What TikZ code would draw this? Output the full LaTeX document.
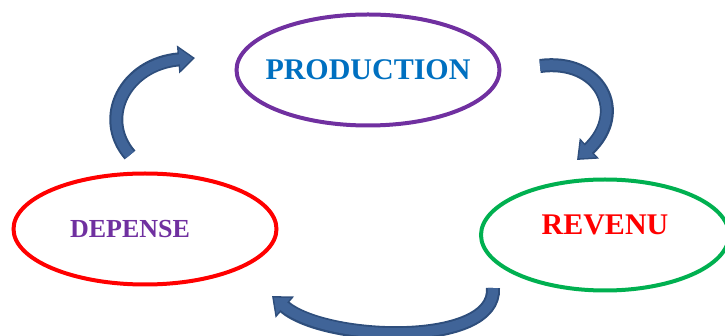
\documentclass[tikz,border=0pt]{standalone}
\usepackage{fontspec}
\setmainfont{Liberation Serif}
\usetikzlibrary{shapes.geometric,arrows.meta}
\definecolor{violeta}{HTML}{7030A0}
\definecolor{azul}{HTML}{0070C0}
\definecolor{verde}{HTML}{00B050}
\definecolor{seta}{RGB}{64,100,152}
\definecolor{setaborda}{RGB}{46,78,124}
\tikzset{
  elipse/.style={ellipse, draw, line width=4pt, inner sep=0pt, minimum width=263pt, minimum height=111pt},
  rotulo/.style={font=\fontsize{30}{30}\selectfont\bfseries},
  setafora/.style={setaborda, line width=14pt, -{Triangle[width=27pt, length=17pt]}},
  setadentro/.style={seta, line width=10pt, shorten >=2.5pt, -{Triangle[width=21pt, length=13pt]}}
}
\begin{document}
\begin{tikzpicture}[x=1pt, y=-1pt]
            \useasboundingbox (0,0) rectangle (725,336);
            % Elipses
            \node[elipse, draw=violeta] (prod) at (368,70) {};
            \node[rotulo, text=azul] (tprod) at (prod.center) {PRODUCTION};
            \node[elipse, draw=red] (dep) at (145,229) {};
            \node[rotulo, text=violeta, font=\fontsize{26}{26}\selectfont\bfseries] (tdep) at ([xshift=-15pt]dep.center) {DEPENSE};
            \node[elipse, draw=verde, minimum width=248pt] (rev) at (605,235) {};
            \node[rotulo, text=red] (trev) at ([yshift=10pt]rev.center) {REVENU};
            % Setas
            \coordinate (d1) at (130,155);
            \coordinate (p1) at (195,58);
            \coordinate (p2) at (540,66);
            \coordinate (r2) at (577,160);
            \coordinate (r3) at (493,288);
            \coordinate (d3) at (272,296);
            \foreach \s in {setafora, setadentro} {
                \draw[\s] (d1) .. controls (98,118) and (125,64) .. (p1);
                \draw[\s] (p2) .. controls (600,58) and (628,112) .. (r2);
                \draw[\s] (r3) .. controls (497,348) and (325,342) .. (d3);
            }
        \end{tikzpicture}
\end{document}
